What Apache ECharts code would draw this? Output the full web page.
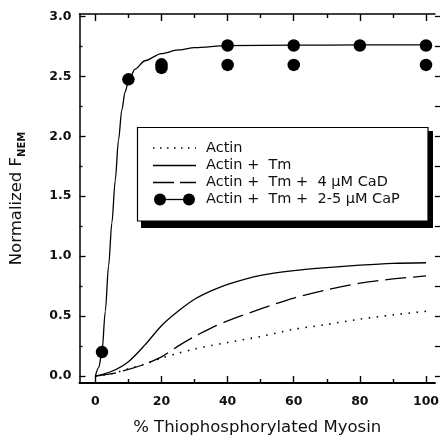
<!DOCTYPE html>
<html><head><meta charset="utf-8">
<script src="https://cdn.jsdelivr.net/npm/echarts@6/dist/echarts.min.js"></script>
<style>html,body{margin:0;padding:0;background:#fff}#c{width:442px;height:441px}</style>
</head><body><div id="c"></div>
<script>
// ---- tick values ----
const xTicksMajor = [0, 20, 40, 60, 80, 100];
const xTicksMinor = [10, 30, 50, 70, 90];
const yTicksMajor = [0, 0.5, 1, 1.5, 2, 2.5, 3];
const yTicksMinor = [0.25, 0.75, 1.25, 1.75, 2.25, 2.75];
const yTicksRight = [0, 0.25, 0.5, 0.75, 1, 1.25, 1.5, 1.75, 2, 2.25, 2.5, 2.75, 3];

// ---- curves (lower group) ----
const lowX     = [0, 5, 10, 15, 20, 25, 30, 35, 40, 50, 60, 70, 80, 90, 100];
const actinY   = [0, 0.02, 0.06, 0.10, 0.15, 0.19, 0.225, 0.255, 0.28, 0.33, 0.39, 0.43, 0.475, 0.51, 0.54];
const actinTmY = [0, 0.04, 0.12, 0.26, 0.42, 0.54, 0.64, 0.71, 0.765, 0.84, 0.88, 0.905, 0.925, 0.94, 0.945];
const cadY     = [0, 0.02, 0.055, 0.10, 0.16, 0.25, 0.33, 0.40, 0.46, 0.56, 0.65, 0.72, 0.775, 0.81, 0.835];

// ---- CaP fit curve ----
const capFitX = [0, 1, 2, 3, 4, 5, 6, 7, 8, 9, 10, 12, 15, 20, 25, 30, 40, 60, 80, 100];
const capFitY = [0, 0.07, 0.2, 0.54, 0.92, 1.28, 1.63, 1.97, 2.22, 2.37, 2.46, 2.56, 2.63, 2.69, 2.72, 2.74, 2.757, 2.76, 2.762, 2.762];

// ---- CaP data points ----
const capX = [2, 10, 20, 20, 40, 40, 60, 60, 80, 100, 100];
const capY = [0.20, 2.475, 2.57, 2.60, 2.757, 2.595, 2.757, 2.595, 2.757, 2.757, 2.595];

const legendNames = ['Actin', 'Actin +  Tm', 'Actin +  Tm +  4 \u00b5M CaD', 'Actin +  Tm +  2-5 \u00b5M CaP'];

const FONT = '"DejaVu Sans", sans-serif';
const zip = (xs, ys) => xs.map((x, i) => [x, ys[i]]);
const XMIN = -4.8, XMAX = 102.7, YMIN = -0.058, YMAX = 3.02;

function xAx(pos, lineShow, ticks, len, extra) {
  return Object.assign({
    type: 'value', position: pos, min: XMIN, max: XMAX,
    axisLine: { show: lineShow, onZero: false, lineStyle: { color: '#000', width: 1.6 } },
    axisTick: { show: true, inside: true, length: len, customValues: ticks, lineStyle: { color: '#000', width: 1.4 } },
    axisLabel: { show: false },
    splitLine: { show: false }
  }, extra || {});
}
function yAx(pos, lineShow, ticks, len, inside, extra) {
  return Object.assign({
    type: 'value', position: pos, min: YMIN, max: YMAX,
    axisLine: { show: lineShow, onZero: false, lineStyle: { color: '#000', width: 1.5 } },
    axisTick: { show: true, inside: inside, length: len, customValues: ticks, lineStyle: { color: '#000', width: 1.3 } },
    axisLabel: { show: false },
    splitLine: { show: false }
  }, extra || {});
}

const chart = echarts.init(document.getElementById('c'), null, { renderer: 'canvas' });
const lw = 1.3;
chart.setOption({
  animation: false,
  backgroundColor: '#fff',
  grid: { left: 78, right: 5, top: 14, bottom: 53 },
  xAxis: [
    xAx('bottom', true, xTicksMajor, 7, {
      axisLine: { show: true, onZero: false, lineStyle: { color: '#000', width: 2 } },
      axisLabel: { show: true, customValues: xTicksMajor, margin: 12, fontSize: 12.5, fontWeight: 'bold', color: '#111', fontFamily: FONT },
      name: '% Thiophosphorylated Myosin', nameLocation: 'middle', nameGap: 36,
      nameTextStyle: { fontSize: 16.5, color: '#111', fontFamily: FONT }
    }),
    xAx('bottom', false, xTicksMinor, 4),
    xAx('top', true, xTicksMajor, 7),
    xAx('top', false, xTicksMinor, 4)
  ],
  yAxis: [
    yAx('left', true, yTicksMajor, 6, true, {
      axisLabel: { show: true, customValues: yTicksMajor, margin: 8, fontSize: 12.5, fontWeight: 'bold', color: '#111', fontFamily: FONT,
                   formatter: v => v.toFixed(1) },
      name: '{a|Normalized F}{b|NEM}', nameLocation: 'middle', nameGap: 52, nameRotate: 90,
      nameTextStyle: { color: '#111', fontFamily: FONT,
        rich: { a: { fontSize: 16.5, lineHeight: 22, fontFamily: FONT, color: '#111', verticalAlign: 'middle' },
                b: { fontSize: 10, lineHeight: 10, fontFamily: FONT, color: '#111', fontWeight: 'bold', verticalAlign: 'bottom' } } }
    }),
    yAx('left', false, yTicksMinor, 3, true),
    yAx('right', false, yTicksRight, 5, false)
  ],
  series: [
    { name: legendNames[0], type: 'line', data: zip(lowX, actinY), smooth: 0.3, showSymbol: false, symbol: 'none',
      lineStyle: { color: '#000', width: 1.6, type: [1.5, 6.5] } },
    { name: legendNames[1], type: 'line', data: zip(lowX, actinTmY), smooth: 0.3, showSymbol: false, symbol: 'none',
      lineStyle: { color: '#000', width: lw } },
    { name: legendNames[2], type: 'line', data: zip(lowX, cadY), smooth: 0.3, showSymbol: false, symbol: 'none',
      lineStyle: { color: '#000', width: lw, type: [21, 7] } },
    { name: legendNames[3] + ' fit', type: 'line', data: zip(capFitX, capFitY), smooth: 0.3, smoothMonotone: 'x',
      showSymbol: false, symbol: 'none', lineStyle: { color: '#000', width: lw } },
    { name: legendNames[3], type: 'scatter', data: zip(capX, capY), symbol: 'circle', symbolSize: 12.5,
      itemStyle: { color: '#000', opacity: 1 }, z: 5 }
  ],
  graphic: [
    { type: 'rect', z: 10, shape: { x: 141, y: 131, width: 292, height: 97 }, style: { fill: '#000' } },
    { type: 'rect', z: 11, shape: { x: 137.5, y: 127.5, width: 290.5, height: 93.5 }, style: { fill: '#fff', stroke: '#000', lineWidth: 1.2 } },
    { type: 'line', z: 12, shape: { x1: 153, y1: 148, x2: 196, y2: 148 }, style: { stroke: '#000', lineWidth: 1.5, lineDash: [1.5, 5.5] } },
    { type: 'line', z: 12, shape: { x1: 153, y1: 165.5, x2: 196, y2: 165.5 }, style: { stroke: '#000', lineWidth: 1.3 } },
    { type: 'line', z: 12, shape: { x1: 153, y1: 182.5, x2: 196, y2: 182.5 }, style: { stroke: '#000', lineWidth: 1.3, lineDash: [21, 6] } },
    { type: 'line', z: 12, shape: { x1: 160, y1: 199.5, x2: 189, y2: 199.5 }, style: { stroke: '#000', lineWidth: 1.3 } },
    { type: 'circle', z: 12, shape: { cx: 160, cy: 199.5, r: 6 }, style: { fill: '#000' } },
    { type: 'circle', z: 12, shape: { cx: 189, cy: 199.5, r: 6 }, style: { fill: '#000' } },
    { type: 'text', z: 12, style: { x: 206, y: 148, text: legendNames[0], font: '14.5px ' + FONT, fill: '#111', verticalAlign: 'middle' } },
    { type: 'text', z: 12, style: { x: 206, y: 165.5, text: legendNames[1], font: '14.5px ' + FONT, fill: '#111', verticalAlign: 'middle' } },
    { type: 'text', z: 12, style: { x: 206, y: 182.5, text: legendNames[2], font: '14.5px ' + FONT, fill: '#111', verticalAlign: 'middle' } },
    { type: 'text', z: 12, style: { x: 206, y: 199.5, text: legendNames[3], font: '14.5px ' + FONT, fill: '#111', verticalAlign: 'middle' } }
  ]
});
</script></body></html>
